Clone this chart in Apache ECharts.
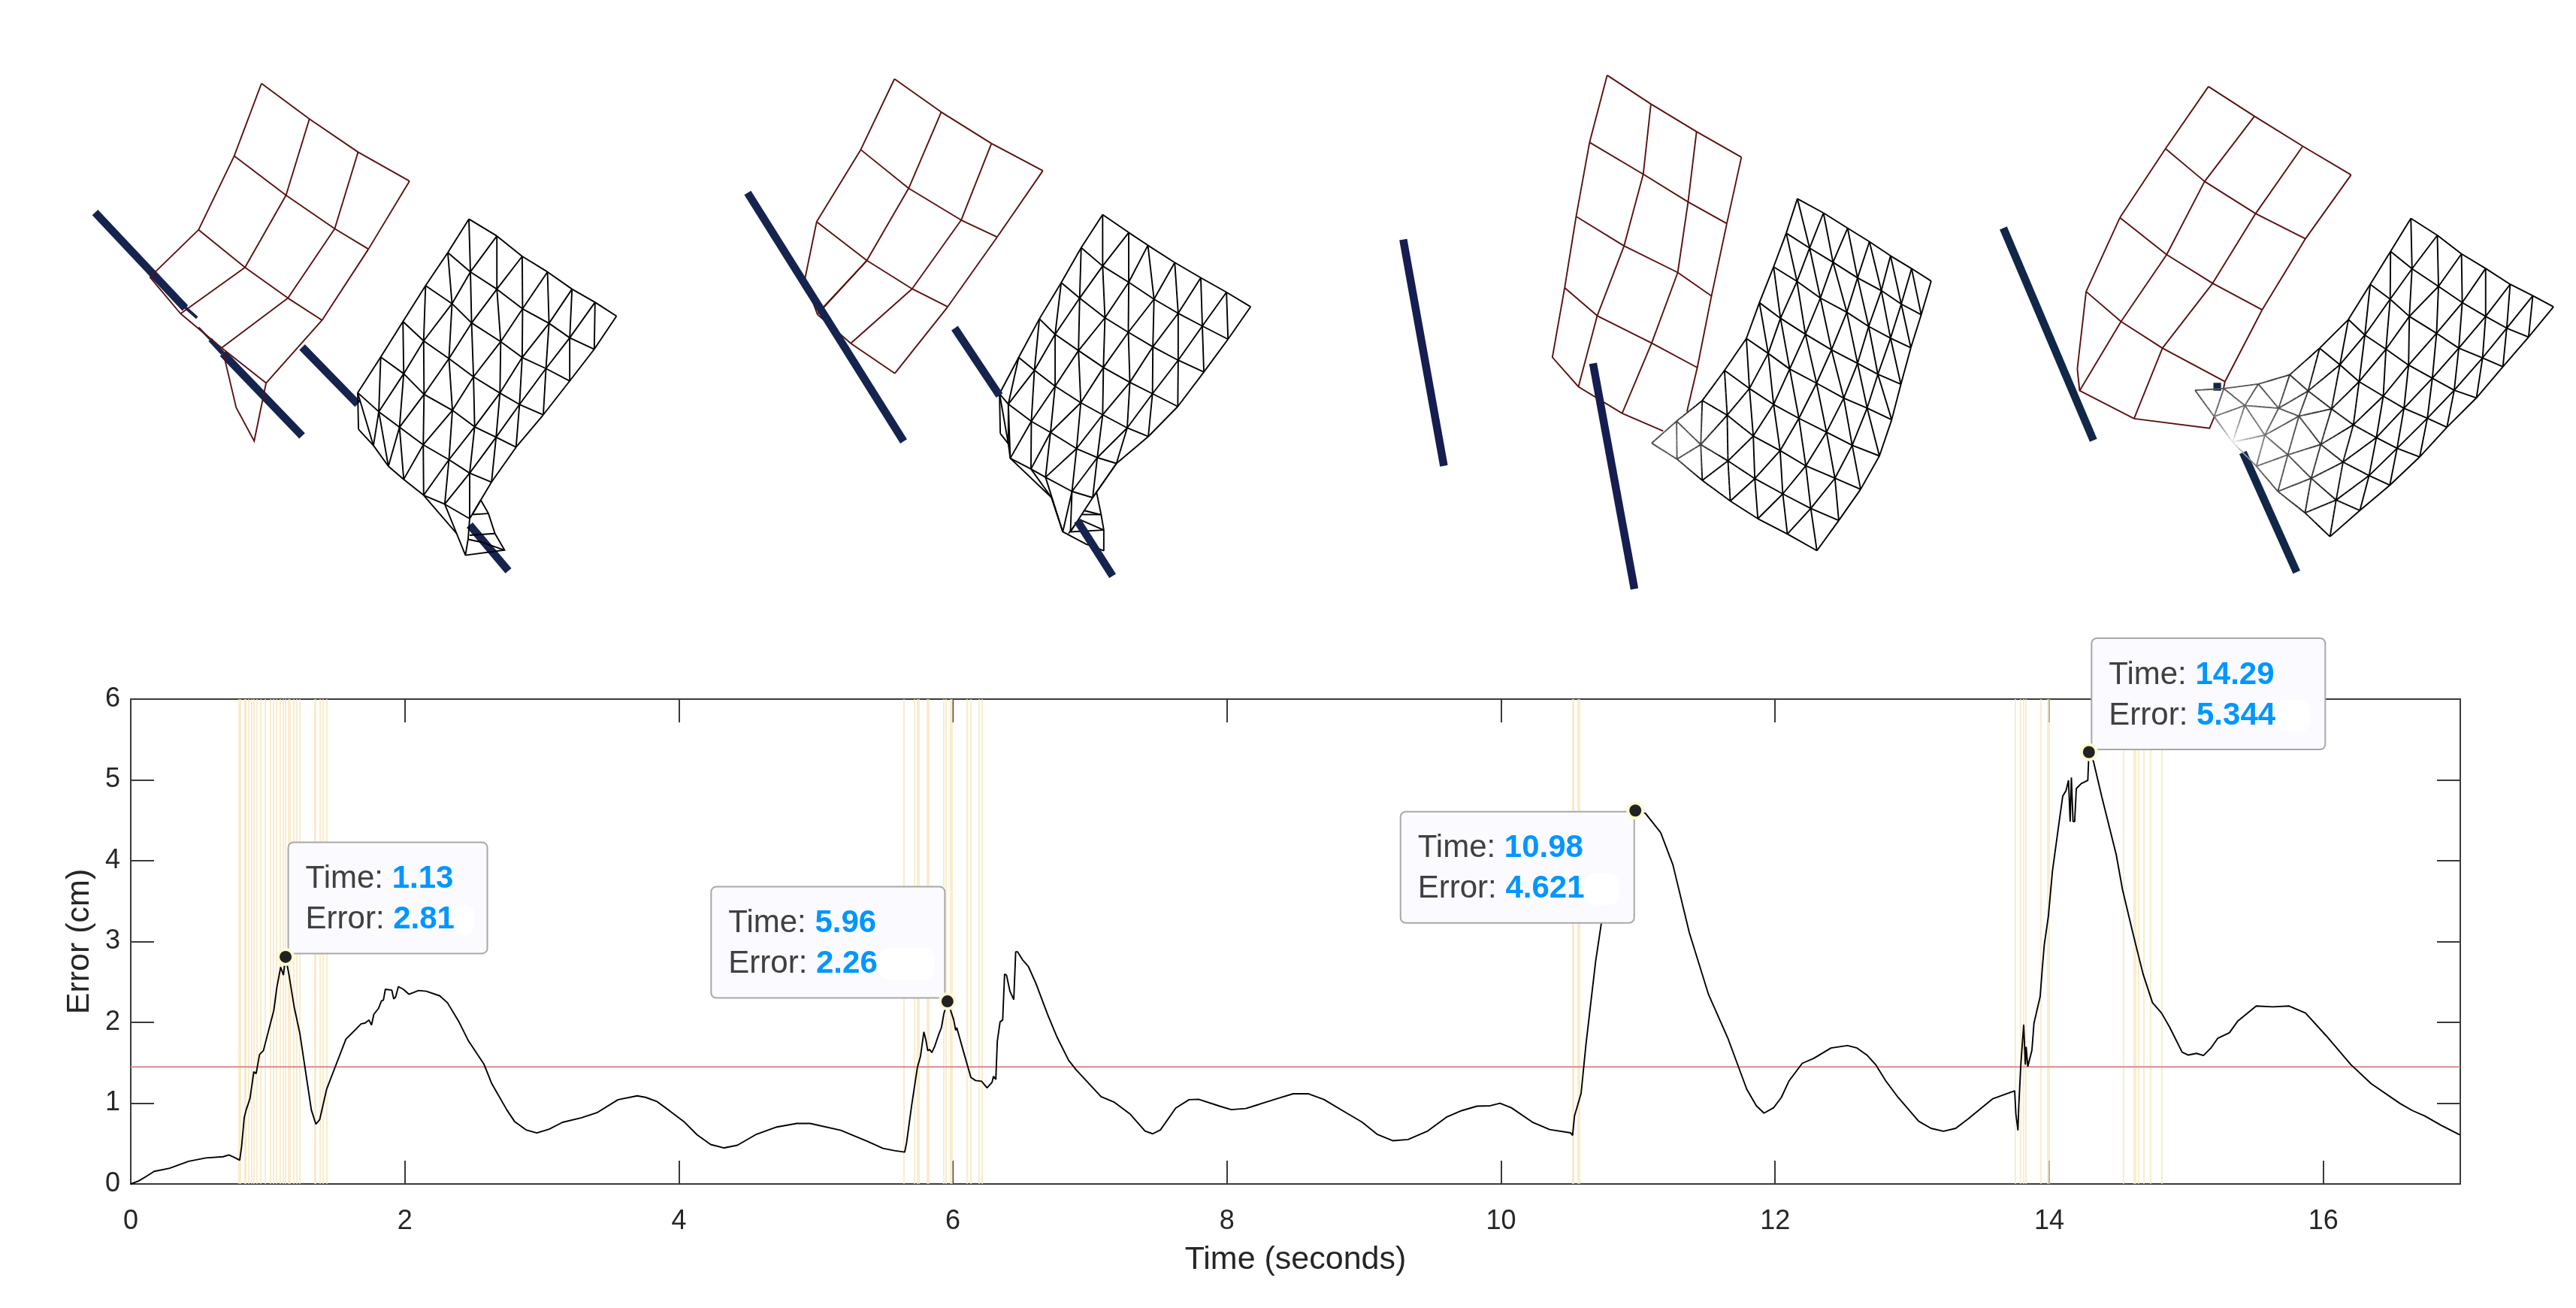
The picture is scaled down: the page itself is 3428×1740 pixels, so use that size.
<!DOCTYPE html>
<html><head><meta charset="utf-8">
<style>html,body{margin:0;padding:0;background:#fff}#c{width:3428px;height:1740px}</style>
<script src="https://cdn.jsdelivr.net/npm/echarts@6/dist/echarts.min.js"></script>
</head><body><div id="c"></div>
<script>
// ---------- error curve ----------
const errorCurve = [[0,0],[.059,.038],[.115,.095],[.171,.156],[.283,.194],[.422,.280],[.548,.322],[.674,.337],[.716,.360],[.758,.327],[.795,.294],[.809,.465],[.828,.820],[.842,.915],[.870,1.057],[.898,1.389],[.915,1.366],[.940,1.603],[.968,1.650],[1.004,1.887],[1.044,2.148],[1.066,2.432],[1.094,2.684],[1.114,2.584],[1.125,2.741],[1.13,2.81],[1.156,2.575],[1.192,2.195],[1.234,1.863],[1.276,1.389],[1.318,.915],[1.351,.740],[1.379,.797],[1.430,1.176],[1.500,1.484],[1.570,1.792],[1.612,1.863],[1.682,1.982],[1.710,1.991],[1.738,2.029],[1.757,1.968],[1.774,2.100],[1.808,2.172],[1.830,2.266],[1.844,2.276],[1.858,2.409],[1.905,2.399],[1.919,2.290],[1.933,2.314],[1.953,2.442],[1.989,2.409],[2.031,2.347],[2.101,2.394],[2.157,2.385],[2.255,2.328],[2.311,2.243],[2.395,2.006],[2.465,1.769],[2.577,1.484],[2.633,1.247],[2.745,.915],[2.801,.773],[2.885,.669],[2.963,.631],[3.053,.678],[3.151,.763],[3.290,.820],[3.402,.882],[3.556,1.043],[3.696,1.091],
[3.757,1.072],[3.841,1.019],[3.925,.915],[4.036,.773],[4.134,.607],[4.232,.488],[4.330,.446],[4.427,.479],[4.567,.616],[4.707,.702],[4.860,.749],[4.958,.749],[5.182,.664],[5.377,.526],[5.489,.441],[5.573,.413],[5.648,.394],[5.662,.512],[5.698,.963],[5.740,1.437],[5.763,1.579],[5.788,1.882],[5.804,1.769],[5.816,1.650],[5.830,1.664],[5.846,1.626],[5.866,1.698],[5.894,1.840],[5.916,1.935],[5.933,2.101],[5.96,2.26],[5.983,2.148],[6.006,2.029],[6.020,1.901],[6.028,1.935],[6.075,1.650],[6.131,1.318],[6.165,1.280],[6.209,1.271],[6.249,1.190],[6.285,1.257],[6.296,1.332],[6.313,1.294],[6.324,1.769],[6.344,2.006],[6.363,2.029],[6.377,2.598],[6.391,2.584],[6.416,2.385],[6.444,2.281],[6.458,2.873],[6.472,2.873],[6.508,2.774],[6.550,2.693],[6.606,2.480],[6.690,2.101],[6.760,1.816],[6.844,1.532],[6.899,1.413],[7.081,1.081],[7.179,1.010],[7.291,.868],[7.402,.654],[7.458,.621],[7.514,.669],[7.626,.939],[7.723,1.043],[7.793,1.048],[7.947,.963],[8.031,.920],[8.137,.934],
[8.232,.984],[8.372,1.060],[8.483,1.116],[8.595,1.116],[8.707,1.045],[8.874,.877],[8.986,.765],[9.098,.612],[9.209,.535],[9.321,.550],[9.461,.652],[9.601,.826],[9.712,.907],[9.824,.963],[9.922,.968],[9.992,.999],[10.075,.943],[10.229,.765],[10.355,.673],[10.508,.632],[10.522,.601],[10.536,.841],[10.584,1.121],[10.620,1.733],[10.690,2.752],[10.735,3.262],[10.788,3.823],[10.844,4.281],[10.899,4.536],[10.98,4.621],[11.053,4.587],[11.165,4.348],[11.254,3.950],[11.374,3.109],[11.514,2.345],[11.654,1.809],[11.793,1.172],[11.863,.968],[11.919,.877],[11.989,.943],[12.045,1.070],[12.101,1.274],[12.198,1.493],[12.282,1.555],[12.408,1.682],[12.528,1.713],
[12.598,1.682],[12.673,1.590],[12.733,1.478],[12.808,1.274],[12.898,1.070],[13.048,.775],[13.138,.688],[13.228,.652],[13.318,.688],[13.408,.805],[13.589,1.055],[13.748,1.152],[13.757,.866],[13.772,.663],[13.778,.968],[13.793,1.478],[13.814,1.972],[13.826,1.478],[13.832,1.697],[13.844,1.453],[13.874,1.656],[13.889,1.988],[13.934,2.319],[13.949,2.650],[13.964,2.956],[13.994,3.313],[14.024,3.874],[14.069,4.434],[14.099,4.801],[14.123,4.868],[14.141,4.995],[14.153,4.485],[14.162,5.031],[14.174,4.485],[14.186,4.485],[14.198,4.893],[14.234,4.954],[14.282,4.995],[14.29,5.344],[14.324,5.224],[14.384,4.791],[14.489,4.077],[14.535,3.644],[14.610,3.109],[14.685,2.599],[14.754,2.243],[14.820,2.115],[14.880,1.937],[14.970,1.631],[15.015,1.595],[15.075,1.616],[15.126,1.590],[15.180,1.682],[15.231,1.804],[15.315,1.871],[15.375,2.013],[15.511,2.202],[15.631,2.192],[15.751,2.202],[15.871,2.115],[16.021,1.835],[16.201,1.478],[16.351,1.239],[16.562,.994],[16.652,.907],[16.742,.841],[16.862,.724],[16.991,.612],[17,.61]];
const eventTimes = [.786,.795,.828,.842,.859,.876,.904,.920,.949,.982,1.024,1.038,1.063,1.086,1.108,1.130,1.147,1.164,1.186,1.206,1.234,1.340,1.354,1.382,1.396,1.430,
5.637,5.723,5.737,5.749,5.810,5.821,5.933,5.950,5.983,5.994,6.103,6.126,6.187,6.210,
10.517,10.528,10.561,10.573,
13.751,13.793,13.811,13.826,13.940,13.994,14.003,14.544,14.619,14.634,14.655,14.694,14.745,14.82];
const threshold = 1.45;
const calloutTimes = [1.13,5.96,10.98,14.29];
const calloutErrors = ['2.81','2.26','4.621','5.344'];
const xTickStep = 2, yTickStep = 1;

// ---------- scene panels: vertices in each panel's own scene units ----------
const redA = [[[486,111],[611,214],[738,310],[872,394]],[[415,321],[550,435],[677,532],[765,591]],[[322,535],[443,644],[555,733],[644,797]],[[195,672],[275,778],[382,877],[498,979]]];
const redAExtra = [[[385,885],[420,1050],[467,1147],[498,979]]];
const blackA = [[[1027,504],[1100,553],[1166,612],[1232,657],[1296,707],[1356,745],[1412,785]],[[972,601],[1031,657],[1100,707],[1167,764],[1236,806],[1290,848],[1354,881]],[[914,697],[983,749],[1034,805],[1110,859],[1166,905],[1228,937],[1290,973]],[[855,801],[909,857],[975,908],[1039,961],[1108,1008],[1159,1041],[1221,1071]],[[797,904],[857,952],[910,1012],[984,1058],[1042,1106],[1098,1136],[1150,1165]],[[737,1007],[792,1062],[846,1107],[908,1158],[975,1201],[1029,1240],[1086,1266]],[[739,1113],[778,1160],[817,1220],[857,1258],[909,1304],[964,1330],[1029,1372]]];
const blackAExtra = [[[909,1304],[995,1415],[1018,1478]],[[964,1330],[995,1415]],[[1029,1372],[1025,1430],[1018,1478]],[[1058,1318],[1078,1357],[1095,1415],[1120,1463],[1018,1478]],[[1036,1360],[1078,1357]],[[1029,1420],[1095,1415]],[[1025,1432],[1060,1440],[1120,1463]],[[1058,1318],[1036,1360]]];
const barsA = [[[52,485],[287,762]],[[385,893],[592,1132]],[[592,875],[737,1040]],[[1029,1390],[1130,1523]]];
const barSliversA = [{path:[[272,745],[318,790]],w:4},{path:[[322,818],[352,853]],w:2.5},{path:[[352,853],[385,893]],w:6}];

const redB = [[[471,98],[593,194],[724,285],[858,364]],[[383,303],[508,415],[645,507],[739,556]],[[268,512],[399,624],[517,706],[610,758]],[[237,680],[270,780],[357,864],[472,951]]];
const redBExtra = [[[399,624],[285,760]]];
const blackB = [[[1014,491],[1082,543],[1132,580],[1202,630],[1270,674],[1337,716],[1400,758]],[[958,587],[1014,640],[1082,687],[1148,736],[1211,777],[1274,814],[1341,852]],[[906,688],[954,733],[1020,790],[1081,832],[1145,874],[1211,913],[1278,947]],[[849,793],[890,838],[951,885],[1016,934],[1085,977],[1144,1010],[1210,1047]],[[795,905],[836,942],[890,988],[957,1036],[1014,1071],[1078,1109],[1133,1134]],[[745,1010],[768,1040],[828,1090],[878,1122],[946,1169],[1000,1195],[1050,1212]],[[747,1125],[768,1155],[773,1197],[827,1228],[865,1252],[934,1293],[988,1311]]];
const blackBExtra = [[[773,1197],[880,1310],[910,1410]],[[827,1228],[880,1310]],[[865,1252],[910,1410]],[[934,1293],[910,1410]],[[934,1293],[930,1410]],[[988,1311],[930,1410]],[[1050,1212],[988,1311]],[[998,1295],[1010,1360],[1017,1405],[1017,1465]],[[960,1360],[1010,1360]],[[965,1348],[1007,1360]],[[955,1375],[1017,1405]],[[930,1410],[1017,1405]],[[910,1410],[970,1445],[1017,1465]],[[945,1385],[925,1415]]];
const barsB = [[[88,428],[495,1148]],[[628,820],[745,1015]],[[948,1378],[1040,1538]]];

const redC = [[[664,85],[778,166],[897,244],[1014,316]],[[618,274],[758,364],[875,442],[976,503]],[[583,483],[708,566],[848,641],[936,707]],[[553,684],[638,763],[780,840],[899,909]]];
const redCExtra = [[[553,684],[521,880],[589,963],[703,1038],[810,1088]],[[638,763],[589,963]],[[780,840],[703,1038]],[[899,909],[872,1033]]];
const blackC = [[[1160,433],[1228,473],[1291,516],[1348,554],[1403,594],[1458,630],[1509,665]],[[1131,530],[1192,572],[1253,612],[1317,656],[1379,692],[1431,730],[1483,760]],[[1098,625],[1159,666],[1220,713],[1289,753],[1346,793],[1403,826],[1456,853]],[[1061,726],[1116,770],[1181,815],[1249,859],[1317,897],[1370,928],[1430,956]],[[1027,827],[1084,869],[1140,913],[1210,953],[1281,995],[1342,1023],[1406,1056]],[[970,917],[1035,968],[1098,1013],[1164,1052],[1236,1091],[1303,1128],[1374,1158]],[[912,1002],[977,1043],[1045,1102],[1115,1143],[1182,1186],[1258,1221],[1325,1252]],[[845,1060],[908,1126],[979,1172],[1049,1222],[1122,1265],[1195,1306],[1268,1340]],[[780,1122],[846,1167],[912,1227],[985,1285],[1057,1335],[1134,1378],[1211,1425]]];
const barsC = [[[132,548],[238,1186]],[[627,897],[735,1533]]];

const redD = [[[625,120],[745,206],[871,293],[997,376]],[[513,300],[615,395],[748,488],[878,561]],[[394,500],[516,607],[636,690],[765,767]],[[306,714],[397,801],[505,878],[668,975]]];
const redDExtra = [[[306,714],[283,938],[289,1001],[431,1082],[628,1110],[640,1077]],[[397,801],[289,1001]],[[505,878],[431,1082]],[[668,975],[664,997]]];
const blackD = [[[1153,502],[1222,551],[1285,605],[1348,647],[1412,693],[1471,726],[1525,758]],[[1100,598],[1156,648],[1225,699],[1287,746],[1348,786],[1403,820],[1460,846]],[[1047,693],[1099,736],[1149,786],[1220,835],[1278,878],[1340,906],[1393,932]],[[990,795],[1033,840],[1088,881],[1147,927],[1209,965],[1266,1000],[1324,1022]],[[915,878],[968,926],[1018,975],[1081,1017],[1135,1052],[1196,1081],[1247,1107]],[[837,955],[885,1002],[946,1054],[1003,1100],[1063,1137],[1117,1168],[1176,1193]],[[755,982],[808,1052],[861,1075],[918,1157],[976,1208],[1044,1247],[1098,1275]],[[665,995],[720,1044],[772,1130],[832,1187],[893,1255],[958,1318],[1020,1348]],[[590,1000],[640,1076],[688,1150],[750,1220],[806,1293],[877,1355],[942,1424]]];
const barsD = [[[90,530],[325,1145]],[[638,990],[658,990]],[[715,1180],[855,1527]]];

// ---------- styling / layout ----------
const FONT = '"Liberation Sans", Arial, sans-serif';
const SCENE_SIZE = 1568;
const panels = [
  {rect:[100,60,800,720], red:redA, redExtra:redAExtra, black:blackA, blackExtra:blackAExtra, bars:barsA, slivers:barSliversA, barColor:'#15244f', barsOnTop:false},
  {rect:[950,60,800,720], red:redB, redExtra:redBExtra, black:blackB, blackExtra:blackBExtra, bars:barsB, slivers:[], barColor:'#15244f', barsOnTop:true},
  {rect:[1800,60,800,740], red:redC, redExtra:redCExtra, black:blackC, blackExtra:[], bars:barsC, slivers:[], barColor:'#161d50', barsOnTop:true,
    fade:{c:[846,1115], stops:[[0,110],[60,70],[130,0]]}},
  {rect:[2620,60,800,720], red:redD, redExtra:redDExtra, black:blackD, blackExtra:[], bars:barsD, slivers:[], barColor:'#112748', barsOnTop:false,
    fade:{c:[688,1150], stops:[[0,240],[40,170],[100,105],[200,70],[330,0]]}}
];
const REDLINE = '#5a1010';

function grayAt(f,p){
  const d=Math.hypot(p[0]-f.c[0],p[1]-f.c[1]); const s=f.stops;
  let g=0;
  if(d<=s[0][0]) g=s[0][1];
  else { for(let i=1;i<s.length;i++){ if(d<=s[i][0]){const t=(d-s[i-1][0])/(s[i][0]-s[i-1][0]); g=s[i-1][1]+t*(s[i][1]-s[i-1][1]); break;} } }
  g=Math.round(g); return `rgb(${g},${g},${g})`;
}
function gridEdges(V,diag){
  const out=[];
  for(let r=0;r<V.length;r++)for(let c=0;c<V[r].length;c++){
    if(c+1<V[r].length) out.push([V[r][c],V[r][c+1]]);
    if(r+1<V.length){ out.push([V[r][c],V[r+1][c]]);
      if(diag&&c+1<V[r].length) out.push([V[r][c],V[r+1][c+1]]); }
  }
  return out;
}
function blackItems(p){
  const items=[];
  gridEdges(p.black,true).forEach(e=>{
    const near=p.fade&&Math.min(Math.hypot(e[0][0]-p.fade.c[0],e[0][1]-p.fade.c[1]),Math.hypot(e[1][0]-p.fade.c[0],e[1][1]-p.fade.c[1]))<p.fade.stops[p.fade.stops.length-1][0]+20;
    if(!near){items.push({coords:e,lineStyle:{color:'#000'}});return;}
    const n=8;
    for(let i=0;i<n;i++){
      const a=[e[0][0]+(e[1][0]-e[0][0])*i/n,e[0][1]+(e[1][1]-e[0][1])*i/n];
      const b=[e[0][0]+(e[1][0]-e[0][0])*(i+1)/n,e[0][1]+(e[1][1]-e[0][1])*(i+1)/n];
      items.push({coords:[a,b],lineStyle:{color:grayAt(p.fade,[(a[0]+b[0])/2,(a[1]+b[1])/2])}});
    }
  });
  p.blackExtra.forEach(l=>items.push({coords:l,lineStyle:{color:'#000'}}));
  return items;
}

const grids=[{left:174,right:154,top:930,bottom:165,containLabel:false}];
const axisCommon={min:0,type:'value',splitLine:{show:false},
  axisLine:{show:true,onZero:false,lineStyle:{color:'#3a3a3a',width:2}},
  axisTick:{show:true,inside:true,length:31,lineStyle:{color:'#3a3a3a',width:2}}};
const xAxes=[
 {...axisCommon,gridIndex:0,position:'bottom',max:17,interval:xTickStep,name:'Time (seconds)',nameLocation:'middle',nameGap:80,
  nameTextStyle:{fontFamily:FONT,fontSize:43,color:'#262626'},
  axisLabel:{fontFamily:FONT,fontSize:36,color:'#262626',margin:32,showMaxLabel:false,hideOverlap:false}},
 {...axisCommon,gridIndex:0,position:'top',max:17,interval:xTickStep,axisLabel:{show:false}}
];
const yAxes=[
 {...axisCommon,gridIndex:0,position:'left',max:6,interval:yTickStep,name:'Error (cm)',nameLocation:'middle',nameGap:46,
  nameTextStyle:{fontFamily:FONT,fontSize:43,color:'#262626'},
  axisLabel:{fontFamily:FONT,fontSize:36,color:'#262626',margin:14,padding:[7,0,0,0]}},
 {...axisCommon,gridIndex:0,position:'right',max:6,interval:yTickStep,axisLabel:{show:false}}
];
const series=[];
panels.forEach((p,i)=>{
  const gi=i+1;
  grids.push({left:p.rect[0],top:p.rect[1],width:p.rect[2],height:p.rect[3],containLabel:false});
  xAxes.push({type:'value',show:false,gridIndex:gi,min:0,max:SCENE_SIZE});
  yAxes.push({type:'value',show:false,gridIndex:gi,min:0,max:SCENE_SIZE,inverse:true});
  const ax={coordinateSystem:'cartesian2d',xAxisIndex:xAxes.length-1,yAxisIndex:yAxes.length-1,silent:true,animation:false};
  const barData=p.bars.map(b=>({coords:b})).concat(p.slivers.map(s=>({coords:s.path,lineStyle:{width:s.w}})));
  const barSeries={type:'lines',...ax,polyline:true,z:p.barsOnTop?4:2,
    lineStyle:{color:p.barColor,width:10.5,opacity:1,cap:'butt',curveness:0},
    data:barData};
  const redItems=gridEdges(p.red,false).concat(p.redExtra);
  series.push(barSeries);
  series.push({type:'lines',...ax,polyline:true,z:3,lineStyle:{color:REDLINE,width:1.9,opacity:1},data:redItems.map(l=>({coords:l}))});
  series.push({type:'lines',...ax,polyline:true,z:3,lineStyle:{width:1.9,opacity:1},data:blackItems(p)});
});

// chart layers
series.push({type:'line',xAxisIndex:0,yAxisIndex:0,data:[],silent:true,animation:false,z:1,
  markLine:{silent:true,animation:false,symbol:'none',label:{show:false},z:1,
    lineStyle:{type:'solid',color:'#f8e4b8',width:2,opacity:.7},
    data:eventTimes.map(v=>({xAxis:v}))}});
series.push({type:'line',xAxisIndex:0,yAxisIndex:0,silent:true,animation:false,z:2,showSymbol:false,symbol:'none',
  lineStyle:{color:'#d98a90',width:2},data:[[0,threshold],[17,threshold]]});
series.push({type:'line',xAxisIndex:0,yAxisIndex:0,silent:true,animation:false,z:3,showSymbol:false,symbol:'none',
  lineStyle:{color:'#000',width:1.9},data:errorCurve});

const boxStyle=[{dx:5,dy:-151,w:219,blob:26},{dx:-313,dy:-151,w:265,blob:76},{dx:-311,dy:3,w:265,blob:46},{dx:5,dy:-150,w:265,blob:46}];
series.push({type:'scatter',xAxisIndex:0,yAxisIndex:0,silent:true,animation:false,z:5,symbolSize:1,
  itemStyle:{color:'rgba(0,0,0,0)',opacity:1},
  data:calloutTimes.map((t,i)=>({value:[t,+calloutErrors[i]],
    label:{show:true,position:[boxStyle[i].dx,boxStyle[i].dy],align:'left',verticalAlign:'top',
      width:boxStyle[i].w,
      formatter:`{k|Time: }{v|${t}}\n{k|Error: }{v|${calloutErrors[i]}}{w| }`,
      backgroundColor:'#fafaff',borderColor:'#a8a8a8',borderWidth:2,borderRadius:6,padding:[21,22,17,22],
      rich:{k:{fontFamily:FONT,fontSize:42,color:'#404040',lineHeight:54},
            v:{fontFamily:FONT,fontSize:42,fontWeight:'bold',color:'#0096ff',lineHeight:54},
            w:{backgroundColor:'#ffffff',borderRadius:14,width:boxStyle[i].blob,height:42,lineHeight:54}}}}))});
series.push({type:'scatter',xAxisIndex:0,yAxisIndex:0,silent:true,animation:false,z:6,symbolSize:20,
  itemStyle:{color:'#222222',borderColor:'#fdf9d2',borderWidth:4,opacity:1},
  data:calloutTimes.map((t,i)=>[t,+calloutErrors[i]])});

const chart=echarts.init(document.getElementById('c'),null,{renderer:'canvas'});
chart.setOption({backgroundColor:'#fff',animation:false,grid:grids,xAxis:xAxes,yAxis:yAxes,series});
</script></body></html>
